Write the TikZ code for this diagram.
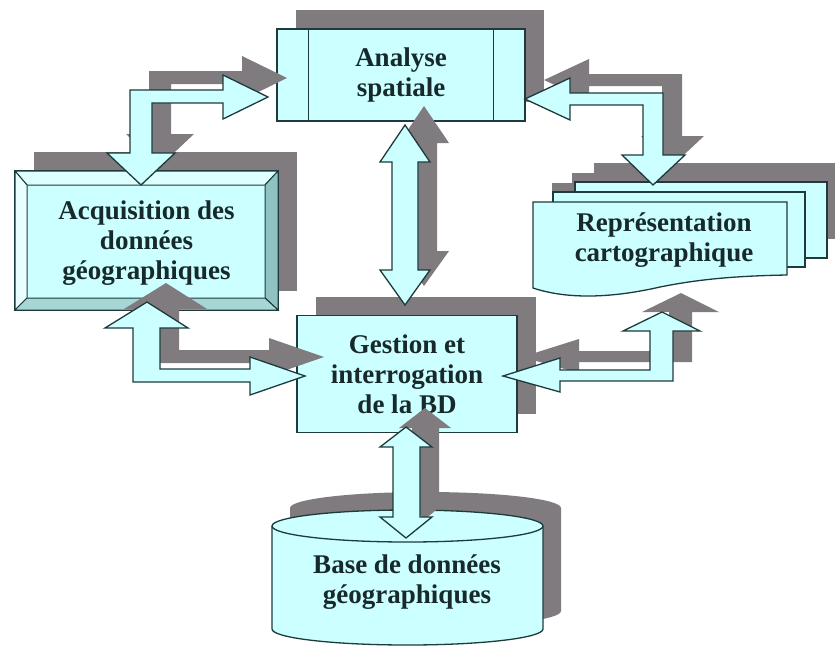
\documentclass[tikz,border=0pt]{standalone}
\usepackage{fontspec}
\setmainfont{Liberation Serif}
\usetikzlibrary{shadows}

\definecolor{boxfill}{HTML}{CCFFFF}
\definecolor{edge}{HTML}{1F3A3A}
\definecolor{shadowgray}{HTML}{7F7B7E}
\definecolor{ink}{HTML}{17292A}
\definecolor{bevtop}{HTML}{DDFFFF}
\definecolor{bevleft}{HTML}{E9FFFF}
\definecolor{bevright}{HTML}{8FC2C2}
\definecolor{bevbot}{HTML}{A6D6D6}

\tikzset{
  outline/.style={draw=edge, line width=1.3pt, line join=miter, fill=boxfill},
  boxshadow/.style={drop shadow={shadow xshift=19pt, shadow yshift=19pt,
      fill=shadowgray, opacity=1}},
  lbl/.style={font=\fontsize{27}{30}\selectfont\bfseries, text=ink,
      align=center, inner sep=0pt},
  arrowshadow/.style={fill=shadowgray, shift={(19pt,19pt)}},
  barrow/.style={outline},
}

% block arrow: grey offset shadow, then the outlined arrow body
\newcommand\blockarrow[1]{%
  \fill[arrowshadow] #1 -- cycle;
  \path[barrow] #1 -- cycle;}

\begin{document}
\begin{tikzpicture}[x=1pt,y=-1pt]
\useasboundingbox (0,0) rectangle (835,646);

% ---- Analyse spatiale (predefined process) ----
\node[outline, boxshadow, minimum width=248pt, minimum height=92pt, lbl]
  (ana) at (401,75) {Analyse\\spatiale};
\draw[edge, line width=1.3pt] ([xshift=32pt]ana.north west) -- ([xshift=32pt]ana.south west);
\draw[edge, line width=1.3pt] ([xshift=-32pt]ana.north east) -- ([xshift=-32pt]ana.south east);

% ---- Acquisition (bevelled box) ----
\node[outline, boxshadow, minimum width=263pt, minimum height=139pt]
  (acq) at (146.5,240.5) {};
\filldraw[draw=edge, line width=1pt, fill=bevtop]   (15,171) -- (278,171) -- (265,185) -- (27,185) -- cycle;
\filldraw[draw=edge, line width=1pt, fill=bevleft]  (15,171) -- (27,185) -- (27,298) -- (15,310) -- cycle;
\filldraw[draw=edge, line width=1pt, fill=bevright] (278,171) -- (278,310) -- (265,298) -- (265,185) -- cycle;
\filldraw[draw=edge, line width=1pt, fill=bevbot]   (15,310) -- (278,310) -- (265,298) -- (27,298) -- cycle;
\draw[edge, line width=1.3pt] (acq.north west) rectangle (acq.south east);
\node[lbl] (acqtext) at (146.5,243) {Acquisition des\\données\\géographiques};

% ---- Représentation (stack of documents) ----
\fill[shadowgray] (594,163) rectangle (846,239);
\fill[shadowgray] (572,173) rectangle (824,248);
\fill[shadowgray, shift={(19pt,19pt)}] (533,202) -- (787,202) -- (787,275)
  .. controls (730,276) and (695,280) .. (660,287)
  .. controls (625,295) and (575,302) .. (533,288) -- cycle;
\path[outline] (575,182) rectangle (827,258);
\path[outline] (553,192) rectangle (805,267);
\path[outline] (533,202) -- (787,202) -- (787,275)
  .. controls (730,276) and (695,280) .. (660,287)
  .. controls (625,295) and (575,302) .. (533,288) -- cycle;
\node[lbl] (rep) at (664,240) {Représentation\\cartographique};

% ---- Gestion et interrogation ----
\node[outline, boxshadow, minimum width=220pt, minimum height=117pt, lbl]
  (ges) at (407,374) {Gestion et\\interrogation\\de la BD};

% ---- Base de données (cylinder) ----
\fill[shadowgray, shift={(18pt,18pt)}] (272,526) -- (272,629)
  arc[start angle=180, end angle=0, x radius=135.5, y radius=16] -- (543,526)
  arc[start angle=0, end angle=-180, x radius=135.5, y radius=16] -- cycle;
\path[outline] (272,526) -- (272,629)
  arc[start angle=180, end angle=0, x radius=135.5, y radius=16] -- (543,526)
  arc[start angle=0, end angle=-180, x radius=135.5, y radius=16] -- cycle;
\draw[edge, line width=1.3pt] (272,526) arc[start angle=180, end angle=0, x radius=135.5, y radius=16];
\node[lbl] (bdd) at (407,582) {Base de données\\géographiques};

% ---- block arrows ----
% Acquisition <-> Analyse
\blockarrow{(130,90) -- (223,90) -- (223,75) -- (268,97) -- (223,119) -- (223,103)
  -- (152,103) -- (152,153) -- (175,153) -- (141,185) -- (107,153) -- (130,153)}
% Analyse <-> Représentation
\blockarrow{(525,99) -- (570,78) -- (570,93) -- (663,93) -- (663,155) -- (685,155)
  -- (653,185) -- (622,155) -- (643,155) -- (643,105) -- (570,105) -- (570,120)}
% Analyse <-> Gestion
\blockarrow{(405,125) -- (430,162) -- (418,162) -- (418,270) -- (430,270) -- (405,305)
  -- (380,270) -- (392,270) -- (392,162) -- (380,162)}
% Acquisition <-> Gestion
\blockarrow{(147,302) -- (188,328) -- (160,328) -- (160,369) -- (250,369) -- (250,357)
  -- (305,376) -- (250,395) -- (250,382) -- (133,382) -- (133,328) -- (105,328)}
% Gestion <-> Représentation
\blockarrow{(503,376) -- (560,358) -- (560,370) -- (650,370) -- (650,331) -- (623,331)
  -- (662,312) -- (700,331) -- (673,331) -- (673,381) -- (560,381) -- (560,392)}
% Gestion <-> Base
\blockarrow{(406,427) -- (432,447) -- (420,447) -- (420,517) -- (432,517) -- (406,538)
  -- (380,517) -- (393,517) -- (393,447) -- (380,447)}

\end{tikzpicture}
\end{document}
